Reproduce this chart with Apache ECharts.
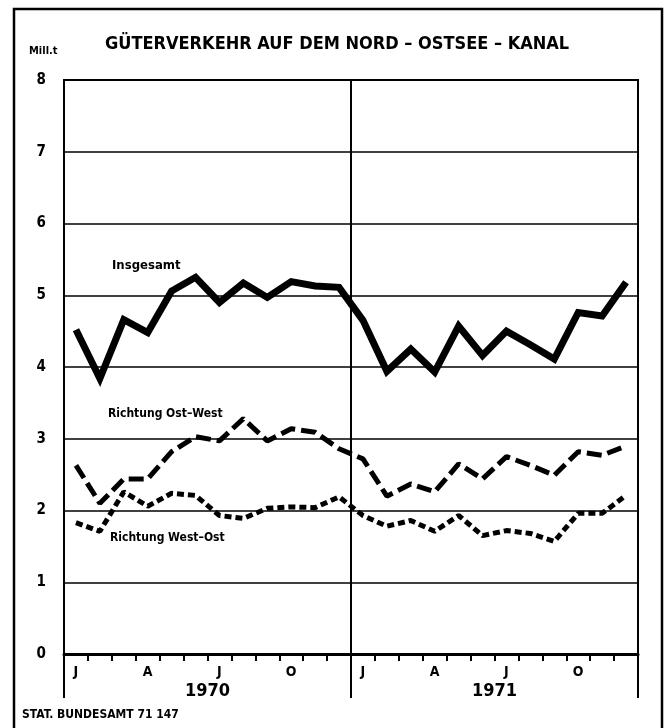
<!DOCTYPE html>
<html>
<head>
<meta charset="utf-8">
<script src="https://cdn.jsdelivr.net/npm/echarts@6/dist/echarts.min.js"></script>
<style>
html,body{margin:0;padding:0;background:#fff;}
#c{width:670px;height:728px;}
</style>
</head>
<body>
<div id="c"></div>
<script>
// Months (two years, Jan 1970 - Dec 1971)
var months = ['J','F','M','A','M','J','J','A','S','O','N','D','J','F','M','A','M','J','J','A','S','O','N','D'];
var years = ['1970','1971'];
var yTicks = [0,1,2,3,4,5,6,7,8];

// Mill. t
var insgesamt = [4.52,3.84,4.66,4.48,5.06,5.25,4.90,5.17,4.97,5.19,5.13,5.11,
                 4.65,3.94,4.25,3.93,4.57,4.16,4.50,4.31,4.11,4.76,4.71,5.18];
var ostWest   = [2.63,2.10,2.44,2.44,2.82,3.03,2.97,3.28,2.97,3.14,3.09,2.86,
                 2.72,2.20,2.37,2.26,2.65,2.44,2.75,2.63,2.49,2.82,2.77,2.90];
var westOst   = [1.83,1.71,2.26,2.06,2.24,2.21,1.93,1.89,2.03,2.05,2.04,2.19,
                 1.93,1.78,1.86,1.71,1.93,1.65,1.72,1.68,1.57,1.96,1.96,2.21];

var FONT = "'DejaVu Sans Condensed','Liberation Sans Narrow',sans-serif";

var chart = echarts.init(document.getElementById('c'), null, {renderer:'canvas'});
chart.setOption({
  backgroundColor:'#fff',
  animation:false,
  grid:{left:64,right:32,top:80,bottom:74,show:true,borderColor:'#000',borderWidth:2,backgroundColor:'transparent'},
  xAxis:[{
    type:'category', data:months, boundaryGap:true, position:'bottom',
    axisLine:{show:true,lineStyle:{color:'#000',width:3}},
    axisTick:{show:true,interval:0,length:7,lineStyle:{color:'#000',width:2}},
    axisLabel:{interval:2,margin:11,color:'#000',fontFamily:FONT,fontWeight:'bold',fontSize:14},
    splitLine:{show:false}
  },{
    type:'category', data:years, boundaryGap:true, position:'bottom',
    axisLine:{show:false},
    axisTick:{show:true,interval:0,length:44,lineStyle:{color:'#000',width:2}},
    axisLabel:{interval:0,margin:28,color:'#000',fontFamily:FONT,fontWeight:'bold',fontSize:18},
    splitLine:{show:true,lineStyle:{color:'#000',width:2}}
  }],
  yAxis:{
    type:'value', min:0, max:8, interval:1,
    axisLine:{show:true,lineStyle:{color:'#000',width:2}},
    axisTick:{show:false},
    axisLabel:{margin:18,color:'#000',fontFamily:FONT,fontWeight:'bold',fontSize:15,
      formatter:function(v){return yTicks.indexOf(v)>=0?String(v):'';}},
    splitLine:{show:true,lineStyle:{color:'#000',width:1.5}}
  },
  graphic:[
    {type:'rect',shape:{x:14,y:9,width:648,height:740},style:{fill:'none',stroke:'#000',lineWidth:2.5},z:0},
    {type:'text',left:105,top:35,style:{text:'GÜTERVERKEHR AUF DEM NORD – OSTSEE – KANAL',font:'bold 18px '+FONT,fill:'#000'}},
    {type:'text',left:29,top:46,style:{text:'Mill.t',font:'bold 11px '+FONT,fill:'#000'}},
    {type:'text',left:112,top:259,style:{text:'Insgesamt',font:'bold 13px '+FONT,fill:'#000'}},
    {type:'text',left:108,top:408,style:{text:'Richtung Ost–West',font:'bold 12px '+FONT,fill:'#000'}},
    {type:'text',left:110,top:532,style:{text:'Richtung West–Ost',font:'bold 12px '+FONT,fill:'#000'}},
    {type:'text',left:22,top:709,style:{text:'STAT. BUNDESAMT 71 147',font:'bold 12px '+FONT,fill:'#000'}}
  ],
  series:[
    {name:'Insgesamt',type:'line',data:insgesamt,symbol:'none',xAxisIndex:0,
      lineStyle:{color:'#000',width:7,type:'solid',join:'miter'},z:5},
    {name:'Richtung Ost-West',type:'line',data:ostWest,symbol:'none',xAxisIndex:0,
      lineStyle:{color:'#000',width:5,type:[15,6]},z:5},
    {name:'Richtung West-Ost',type:'line',data:westOst,symbol:'none',xAxisIndex:0,
      lineStyle:{color:'#000',width:5,type:[7,4]},z:5}
  ]
});
</script>
</body>
</html>
